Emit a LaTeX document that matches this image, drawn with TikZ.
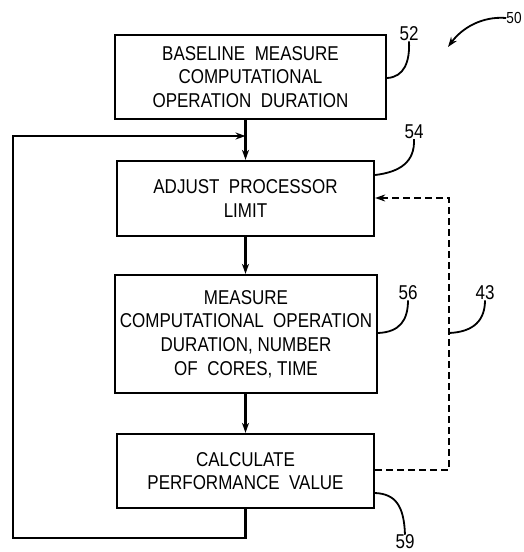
\documentclass[tikz,border=0pt]{standalone}
\usepackage{fontspec}
\setmainfont{Liberation Sans}[FakeStretch=0.85]
\usetikzlibrary{arrows.meta}

\tikzset{
  stepbox/.style={draw, line width=2.3pt, align=center, inner sep=0pt,
    font=\fontsize{20}{23.6}\selectfont},
  flow/.style={line width=2.3pt},
  flowarrow/.style={flow, -{Stealth[length=10pt,width=7pt]}},
  feedback/.style={line width=2pt, dash pattern=on 7pt off 4pt},
  feedarrow/.style={feedback, -{Stealth[length=10pt,width=7pt]}},
  leader/.style={line width=1.8pt},
  refnum/.style={font=\fontsize{20}{20}\selectfont, inner sep=0pt},
}

\begin{document}
\begin{tikzpicture}[x=1pt,y=-1pt]
\useasboundingbox (0,0) rectangle (524,552);

% process steps
\node[stepbox, minimum width=271pt, minimum height=84pt] (b1) at (250.5,77)
  {BASELINE\ \ MEASURE\\COMPUTATIONAL\\OPERATION\ \ DURATION};
\node[stepbox, minimum width=257pt, minimum height=75pt] (b2) at (245.5,198.5)
  {ADJUST\ \ PROCESSOR\\LIMIT};
\node[stepbox, minimum width=262pt, minimum height=118pt] (b3) at (246,334)
  {MEASURE\\COMPUTATIONAL\ \ OPERATION\\DURATION, NUMBER\\OF\ \ CORES, TIME};
\node[stepbox, minimum width=257pt, minimum height=74pt] (b4) at (245.5,471)
  {CALCULATE\\PERFORMANCE\ \ VALUE};

% main flow
\draw[flowarrow] (b1.south -| b2.north) -- (b2.north);
\draw[flowarrow] (b2.south) -- (b2.south |- b3.north);
\draw[flowarrow] (b3.south -| b4.north) -- (b4.north);

% repeat loop back to the processor limit step
\coordinate (lb) at (13,538);
\coordinate (lt) at (13,136);
\coordinate (join) at (245.5,136);
\draw[flowarrow, line join=miter] (b4.south) |- (lb) -- (lt) -- (join);

% feedback path 43
\coordinate (d1) at (449,470);
\coordinate (d2) at (449,198);
\draw[feedarrow] (b4.east |- d1) -- (d1) -- (d2) -- (b2.east |- d2);

% reference numerals
\node[refnum, font=\fontsize{16}{16}\selectfont] (n50) at (514,18) {50};
\node[refnum] (n52) at (409,34) {52};
\node[refnum] (n54) at (414,132) {54};
\node[refnum] (n56) at (408,293) {56};
\node[refnum] (n43) at (485,293) {43};
\node[refnum] (n59) at (405,542) {59};

\draw[leader, -{Stealth[length=10pt,width=7pt]}] (n50.west) .. controls (482,16) and (462,28) .. (448,47);
\draw[leader] (b1.east |- 0,78) .. controls (404,77) and (410,62) .. (n52.south);
\draw[leader] (b2.east |- 0,175) .. controls (400,172) and (415,162) .. (n54.south);
\draw[leader] (b3.east |- 0,333) .. controls (400,332) and (408,320) .. (n56.south);
\draw[leader] (d1 |- 0,333) .. controls (474,332) and (485,320) .. (n43.south);
\draw[leader] (b4.east |- 0,493) .. controls (395,494) and (404,505) .. (n59.north);
\end{tikzpicture}
\end{document}
